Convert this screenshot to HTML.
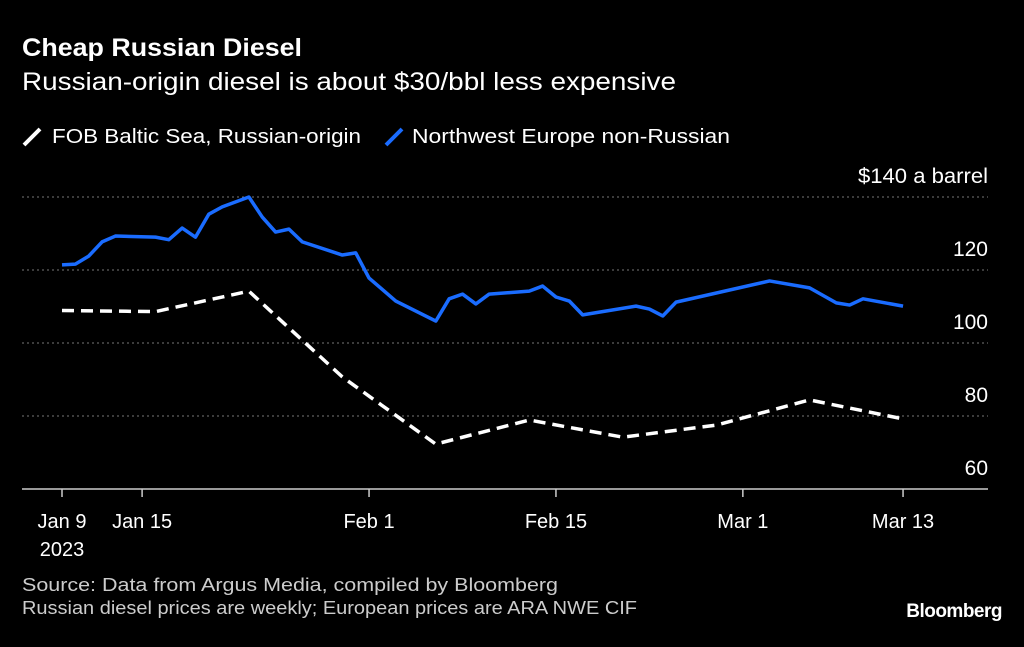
<!DOCTYPE html>
<html><head><meta charset="utf-8"><style>
body{margin:0;background:#000;width:1024px;height:642px;overflow:hidden;font-family:"Liberation Sans",sans-serif;color:#fff}
</style></head><body>
<svg width="1024" height="642" xmlns="http://www.w3.org/2000/svg" font-family="Liberation Sans, sans-serif">
<text x="22" y="56" font-size="25" font-weight="bold" fill="#fff" textLength="280" lengthAdjust="spacingAndGlyphs">Cheap Russian Diesel</text>
<text x="22" y="90" font-size="25" fill="#fff" textLength="654" lengthAdjust="spacingAndGlyphs">Russian-origin diesel is about $30/bbl less expensive</text>
<g><line x1="24" y1="145" x2="40" y2="129" stroke="#fff" stroke-width="4"/><text x="52" y="143" font-size="20" fill="#fff" textLength="309" lengthAdjust="spacingAndGlyphs">FOB Baltic Sea, Russian-origin</text></g>
<g><line x1="386" y1="145" x2="402" y2="129" stroke="#1a6cff" stroke-width="4"/><text x="412" y="143" font-size="20" fill="#fff" textLength="318" lengthAdjust="spacingAndGlyphs">Northwest Europe non-Russian</text></g>
<g id="grid"></g><g id="xaxis"></g><g id="marks"></g>
<text x="22" y="591" font-size="18" fill="#ccc" textLength="536" lengthAdjust="spacingAndGlyphs">Source: Data from Argus Media, compiled by Bloomberg</text>
<text x="22" y="614" font-size="18" fill="#ccc" textLength="615" lengthAdjust="spacingAndGlyphs">Russian diesel prices are weekly; European prices are ARA NWE CIF</text>
<text x="1002" y="617" font-size="19" font-weight="bold" fill="#fff" text-anchor="end" letter-spacing="-0.5">Bloomberg</text>
</svg>
<script>
const yTicks=[60,80,100,120,140];
const xTickDays=[0,6,23,37,51,63];
const xTickLabels=["Jan 9","Jan 15","Feb 1","Feb 15","Mar 1","Mar 13"];
const ruDays=[0,7,14,21,28,35,42,49,56,63];
const ruValues=[108.9,108.6,114.2,90.7,72.3,78.9,74.2,77.5,84.4,79.2];
const euDays=[0,1,2,3,4,7,8,9,10,11,12,14,15,16,17,18,21,22,23,25,28,29,30,31,32,35,36,37,38,39,43,44,45,46,53,56,58,59,60,63];
const euValues=[121.4,121.6,123.8,127.7,129.3,129.0,128.3,131.5,129.0,135.3,137.3,140.0,134.5,130.4,131.2,127.7,124.1,124.7,117.8,111.5,106.0,112.1,113.4,110.7,113.4,114.2,115.6,112.6,111.5,107.7,110.1,109.3,107.4,111.2,117.0,115.1,111.0,110.4,112.1,110.1];
const NS="http://www.w3.org/2000/svg";
const xs=d=>62+d*13.35, ys=v=>489-(v-60)*3.65;
function mk(t,a,p){const e=document.createElementNS(NS,t);for(const k in a)e.setAttribute(k,a[k]);p.appendChild(e);return e;}
const grid=document.getElementById('grid');
yTicks.forEach((v,i)=>{
  const y=ys(v);
  if(v>60){const l=mk('line',{x1:22,x2:988,y1:y,y2:y,stroke:'#777','stroke-dasharray':'2,3','stroke-width':1},grid);
  
  }
  const last=i===yTicks.length-1;
  const a={x:988,y:y-14,'font-size':21,fill:'#fff','text-anchor':'end'};
  if(last){a.textLength=130;a.lengthAdjust='spacingAndGlyphs';}
  const t=mk('text',a,grid);
  t.textContent=(last?'$'+v+' a barrel':v);
  
  
});
const xa=document.getElementById('xaxis');
const base=mk('line',{x1:22,x2:988,y1:489,y2:489,stroke:'#ccc','stroke-width':1.5},xa);


xTickDays.forEach((d,i)=>{
  const x=xs(d);
  mk('line',{x1:x,x2:x,y1:489,y2:497,stroke:'#ccc','stroke-width':1.5},xa);
  const t=mk('text',{x:x,y:528,'font-size':20,fill:'#fff','text-anchor':'middle'},xa);
  t.textContent=xTickLabels[i];
  
  
});
const yr=mk('text',{x:62,y:556,'font-size':20,fill:'#fff','text-anchor':'middle'},xa);
yr.textContent='2023';


const m=document.getElementById('marks');
const eu=mk('polyline',{points:euDays.map((d,i)=>xs(d)+','+ys(euValues[i])).join(' '),fill:'none',stroke:'#1a6cff','stroke-width':3.5,'stroke-linejoin':'round'},m);


const ru=mk('polyline',{points:ruDays.map((d,i)=>xs(d)+','+ys(ruValues[i])).join(' '),fill:'none',stroke:'#fff','stroke-width':3.5,'stroke-dasharray':'12,7'},m);


</script>
</body></html>
